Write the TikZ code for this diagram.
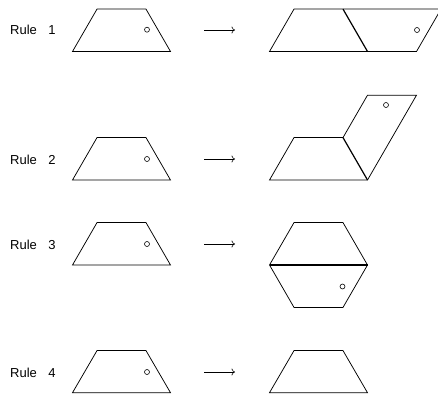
\documentclass[tikz,border=0pt]{standalone}
\usepackage{fontspec}
\setmainfont{Liberation Sans}
\usetikzlibrary{arrows.meta}
\begin{document}
\begin{tikzpicture}[x=1pt,y=-1pt,
  edge/.style={line width=0.75pt,line join=miter},
  divider/.style={line width=1.2pt},
  dot/.style={circle,draw,line width=0.6pt,inner sep=0pt,minimum size=5pt},
  rulelabel/.style={anchor=base west,inner sep=0pt,font=\fontsize{13}{15}\selectfont},
  maparrow/.style={line width=0.6pt,-{To[length=3.5pt,width=7pt]}}]
\useasboundingbox (0,0) rectangle (438,394);
\clip (0,0) rectangle (438,394);
% ---------- Rule 1 ----------
\node[rulelabel] (r1) at (10,34) {Rule\hspace{11.5pt}1};
\draw[edge] (72.5,51.5) -- (170.5,51.5) -- (146,9.1) -- (97,9.1) -- cycle;
\node[dot] (c1l) at (147,29.7) {};
\coordinate (a1s) at (204,30);
\coordinate (a1e) at (235,30);
\draw[maparrow] (a1s) -- (a1e);
\draw[edge] (269.5,51.5) -- (416.5,51.5) -- (441,9.1) -- (294,9.1) -- cycle;
\draw[divider] (343,9.1) -- (367.5,51.5);
\node[dot] (c1r) at (417,30) {};
% ---------- Rule 2 ----------
\node[rulelabel] (r2) at (10,164.3) {Rule\hspace{11.5pt}2};
\draw[edge] (72.5,180) -- (170.5,180) -- (146,137.6) -- (97,137.6) -- cycle;
\node[dot] (c2l) at (147,159) {};
\coordinate (a2s) at (204,159);
\coordinate (a2e) at (235,159);
\draw[maparrow] (a2s) -- (a2e);
\draw[edge] (343,137.6) -- (294,137.6) -- (269.5,180) -- (367.5,180) -- (416.5,95.2) -- (367.5,95.2) -- cycle;
\draw[divider] (343,137.6) -- (367.5,180);
\node[dot] (c2r) at (386,105) {};
% ---------- Rule 3 ----------
\node[rulelabel] (r3) at (10,249.3) {Rule\hspace{11.5pt}3};
\draw[edge] (72.5,265) -- (170.5,265) -- (146,222.6) -- (97,222.6) -- cycle;
\node[dot] (c3l) at (147,244) {};
\coordinate (a3s) at (204,244);
\coordinate (a3e) at (235,244);
\draw[maparrow] (a3s) -- (a3e);
\draw[edge] (269.5,265) -- (294,222.6) -- (343,222.6) -- (367.5,265) -- (343,307.4) -- (294,307.4) -- cycle;
\draw[divider] (269.5,265) -- (367.5,265);
\node[dot] (c3r) at (342.5,286.5) {};
% ---------- Rule 4 ----------
\node[rulelabel] (r4) at (10,377.3) {Rule\hspace{11.5pt}4};
\draw[edge] (72.5,392.7) -- (170.5,392.7) -- (146,350.6) -- (97,350.6) -- cycle;
\node[dot] (c4l) at (147,372) {};
\coordinate (a4s) at (204,372);
\coordinate (a4e) at (235,372);
\draw[maparrow] (a4s) -- (a4e);
\draw[edge] (269.5,392.7) -- (367.5,392.7) -- (343,350.6) -- (294,350.6) -- cycle;
\end{tikzpicture}
\end{document}
